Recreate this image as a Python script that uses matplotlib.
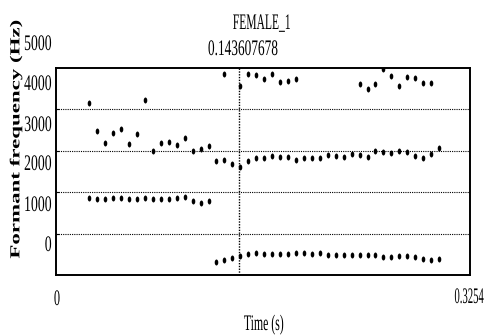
import numpy as np
import matplotlib
matplotlib.use("Agg")
import matplotlib.pyplot as plt
from matplotlib.path import Path
from matplotlib.patheffects import AbstractPathEffect
from matplotlib.transforms import Affine2D

nan = np.nan

t_max = 0.3254
cursor_t = 0.143607678
f_max = 5000
grid_freqs = [1000, 2000, 3000, 4000]
y_tick_labels = ["5000", "4000", "3000", "2000", "1000", "0"]

# frame times (s), one every 6.25 ms
times = [0.0261, 0.0324, 0.0386, 0.0449, 0.0511, 0.0574, 0.0636, 0.0699, 0.0761,
         0.0824, 0.0886, 0.0949, 0.1011, 0.1074, 0.1136, 0.1199, 0.1261, 0.1324,
         0.1386, 0.1449, 0.1511, 0.1574, 0.1636, 0.1699, 0.1761, 0.1824, 0.1886,
         0.1949, 0.2011, 0.2074, 0.2136, 0.2199, 0.2261, 0.2324, 0.2386, 0.2449,
         0.2511, 0.2574, 0.2636, 0.2699, 0.2761, 0.2824, 0.2886, 0.2949, 0.3011]

# formant values (Hz) per frame, nan = no value
f_low = [1867, 1829, 1824, 1853, 1853, 1841, 1841, 1848, 1841, 1829, 1841, 1867,
         1889, 1787, 1746, 1787,
         307, 362, 399, 447, 519, 524, 519, 512, 512, 514, 524, 524, 514, 524,
         476, 483, 483, 483, 490, 483, 483, 435, 435, 452, 459, 442, 394, 355, 394]
f_mid = [nan, 3486, 3181, 3423, 3519, 3164, 3413, nan, 2995, 3181, 3220, 3140,
         3309, 2988, 3036, 3116,
         2761, 2778, 2688, 2597, 2754, 2838, 2831, 2867, 2850, 2850, 2778, 2826,
         2833, 2838, 2887, 2870, 2862, 2923, 2891, 2862, 2986, 2964, 2947, 3002,
         2978, 2874, 2826, 2923, 3068]
f_high = [4147, nan, nan, nan, nan, nan, nan, 4227, nan, nan, nan, nan,
          nan, nan, nan, nan,
          nan, 4855, nan, 4577, 4855, 4836, 4730, 4848, 4650, 4686, 4727, nan,
          nan, nan, nan, nan, nan, nan, 4614, 4498, 4602, 4971, 4800, 4558,
          4771, 4759, 4631, 4631, nan]


class Squeeze(AbstractPathEffect):
    # the scanned figure is squashed sideways, so squeeze the glyphs in x
    def __init__(self, sx=0.55, align="center"):
        super().__init__()
        self.sx = sx
        self.align = align

    def draw_path(self, renderer, gc, tpath, affine, rgbFace=None):
        bb = tpath.get_extents(affine)
        if self.align == "left":
            px = bb.x0
        elif self.align == "right":
            px = bb.x1
        else:
            px = (bb.x0 + bb.x1) / 2
        sq = Affine2D().translate(-px, 0).scale(self.sx, 1).translate(px, 0)
        renderer.draw_path(gc, tpath, affine + sq, rgbFace)


plt.rcParams['font.family'] = ['Liberation Serif', 'DejaVu Serif']

W, H = 486, 335
def fx(x):
    return x / W
def fy(y):
    return 1 - y / H

fig = plt.figure(figsize=(W / 100, H / 100), dpi=100)
ax = fig.add_axes([fx(56), fy(275), 414 / W, 207 / H])

circ = Path.unit_circle()
ellipse = Path(circ.vertices * [0.6, 1.0], circ.codes)

for f in (f_low, f_mid, f_high):
    ax.plot(times, f, ls='none', marker=ellipse, ms=4.3, color='black', mew=0)

ax.set_xlim(0, t_max)
ax.set_ylim(0, f_max)

for g in grid_freqs:
    ax.axhline(g, color='black', lw=0.8, ls=(0, (1, 1)), zorder=1)
ax.axvline(cursor_t, color='black', lw=1.0, ls=(0, (1, 1)), zorder=1)

ax.set_xticks([])
ax.set_yticks(grid_freqs)
ax.set_yticklabels([])
ax.tick_params(axis='y', direction='in', length=2.5, width=0.8)
for s in ax.spines.values():
    s.set_linewidth(1.4)

fs = 16

# titles
fig.text(fx(262), fy(29), "FEMALE_1", ha='center', va='baseline', fontsize=fs,
         path_effects=[Squeeze(0.52)])
fig.text(fx(243), fy(55), f"{cursor_t}", ha='center', va='baseline', fontsize=fs,
         path_effects=[Squeeze(0.6)])

# left labels (sit a bit off the grid lines in the original)
label_base = [50, 90, 131, 170, 211, 251]
for lab, yb in zip(y_tick_labels, label_base):
    fig.text(fx(52), fy(yb), lab, ha='right', va='baseline', fontsize=fs,
             path_effects=[Squeeze(0.62, "right")])

# bottom labels
fig.text(fx(57), fy(305), "0", ha='center', va='baseline', fontsize=fs,
         path_effects=[Squeeze(0.55)])
fig.text(fx(469), fy(303), f"{t_max}", ha='center', va='baseline', fontsize=fs,
         path_effects=[Squeeze(0.48)])
fig.text(fx(264), fy(330), "Time (s)", ha='center', va='baseline', fontsize=fs,
         path_effects=[Squeeze(0.53)])

fig.text(fx(16), fy(139.5), "Formant frequency (Hz)", rotation=90, ha='center',
         va='center', fontsize=16.5, fontweight='bold',
         path_effects=[Squeeze(0.6)])

fig.savefig("out.png", dpi=100)
